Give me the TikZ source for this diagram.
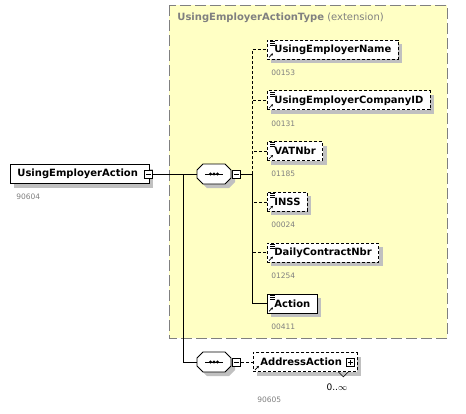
\documentclass[tikz,border=0pt]{standalone}
\usepackage{fontspec}
\setmainfont{DejaVu Sans}
\usetikzlibrary{positioning,shadows,arrows.meta}
\definecolor{typefill}{RGB}{255,255,196}
\definecolor{numgray}{RGB}{128,128,128}
\definecolor{shadowgray}{RGB}{192,192,192}

\newcommand\elemicon[1]{%
  \foreach \k in {1.5,3.5,5.5}
    \draw[line width=0.6pt] ([xshift=3pt,yshift=-\k pt]#1.north west) -- ++(5pt,0pt);
  \draw[line width=0.6pt,-{Stealth[length=2.5pt,width=2.5pt]}] ([xshift=2pt,yshift=2pt]#1.south west) -- ++(4pt,4pt);}

% octagon round a sequence node
\newcommand\seqoutline[1]{%
  \path[fill=shadowgray,shift={([xshift=4pt,yshift=-4pt]#1.center)}]
    (-17,-4) -- (-11,-10) -- (11,-10) -- (17,-4) -- (17,4) -- (11,10) -- (-11,10) -- (-17,4) -- cycle;
  \draw[fill=white,line width=0.8pt,shift={(#1.center)}]
    (-17,-4) -- (-11,-10) -- (11,-10) -- (17,-4) -- (17,4) -- (11,10) -- (-11,10) -- (-17,4) -- cycle;
  \draw[line width=0.8pt] ([xshift=-9pt]#1.center) -- ([xshift=9pt]#1.center);
  \foreach \d in {-3.5,0,3.5}
    \fill ([xshift=\d pt]#1.center) circle (1.6pt);}

\begin{document}
\begin{tikzpicture}[x=1pt,y=-1pt,thick,
			elem/.style={rectangle,draw,line width=0.8pt,fill=white,font=\bfseries\fontsize{10}{12}\selectfont,
				minimum height=19pt,inner xsep=7pt,inner ysep=0pt,anchor=west,
				general shadow={fill=shadowgray,shadow xshift=4pt,shadow yshift=-4pt}},
			optelem/.style={elem,dash pattern=on 3pt off 2pt},
			seqbox/.style={rectangle,minimum width=34pt,minimum height=20pt,inner sep=0pt},
			minusbox/.style={rectangle,draw,line width=0.6pt,fill=white,minimum size=8pt,inner sep=0pt,
				path picture={\draw[line width=0.6pt] ([xshift=-2.5pt]path picture bounding box.center) -- ([xshift=2.5pt]path picture bounding box.center);}},
			plusbox/.style={rectangle,draw,line width=0.6pt,fill=white,minimum size=8pt,inner sep=0pt,
				path picture={\draw[line width=0.6pt] ([xshift=-2.5pt]path picture bounding box.center) -- ([xshift=2.5pt]path picture bounding box.center)
					([yshift=-2.5pt]path picture bounding box.center) -- ([yshift=2.5pt]path picture bounding box.center);}},
			numlabel/.style={font=\fontsize{7.5}{9}\selectfont,text=numgray,inner sep=0pt},
			link/.style={line width=0.8pt},
			optlink/.style={line width=0.8pt,dash pattern=on 3pt off 2pt}]
			
			\useasboundingbox (0,0) rectangle (466,413);
			
			% extension type
			\draw[fill=typefill,draw=numgray,line width=1pt,dash pattern=on 11pt off 4pt] (169,5) rectangle (447,338);
			\node[anchor=west,text=numgray,font=\fontsize{10}{12}\selectfont,inner sep=0pt] (typename) at (177,18)
				{\textbf{UsingEmployerActionType} (extension)};
			
			% root element
			\node[elem] (main) at (10,174) {UsingEmployerAction\hspace{4pt}\mbox{}};
			\node[numlabel,below right=10pt and 6pt of main.south west] (mainnr) {90604};
			\node[minusbox] (mainminus) at ([xshift=-1pt]main.east) {};
			
			\node[seqbox] (seq1) at (214,174) {};
			\node[seqbox] (seq2) at (214,362) {};
			\seqoutline{seq1}
			\seqoutline{seq2}
			\node[minusbox,right=1pt of seq1] (seq1minus) {};
			\node[minusbox,right=1pt of seq2] (seq2minus) {};
			
			% children
			\node[optelem] (ename) at (267,49.5) {UsingEmployerName};
			\node[optelem] (ecompany) [below right=31pt and 0pt of ename.south west] {UsingEmployerCompanyID};
			\node[optelem] (evat) [below right=31pt and 0pt of ecompany.south west] {VATNbr};
			\node[optelem] (einss) [below right=31pt and 0pt of evat.south west] {INSS};
			\node[optelem] (edaily) [below right=31pt and 0pt of einss.south west] {DailyContractNbr};
			\node[elem] (eaction) [below right=31pt and 0pt of edaily.south west] {Action};
			
			\foreach \e/\n in {ename/00153,ecompany/00131,evat/01185,einss/00024,edaily/01254,eaction/00411} {
				\elemicon{\e}
				\node[numlabel,below right=10pt and 4pt of \e.south west] (\e nr) {\n};
			}
			
			\node[optelem] (address) at (253,362) {AddressAction\hspace{8pt}\mbox{}};
			\node[plusbox] (addressplus) at ([xshift=-7pt]address.east) {};
			\draw[-{Stealth[length=2.5pt,width=2.5pt]},line width=0.6pt] ([xshift=2pt,yshift=2pt]address.south west) -- ++(4pt,4pt);
			\draw[line width=0.6pt] ([xshift=-9pt]address.south east) -- ++(-5pt,-5pt) -- ++(-5pt,5pt);
			\node[font=\fontsize{9}{11}\selectfont,inner sep=0pt] (occurs) at (337,387) {0..$\infty$};
			\node[numlabel,anchor=west] (addressnr) at (257,400) {90605};
			
			% connectors
			\coordinate (fork) at (183,174);
			\coordinate (spine) at (252,174);
			\draw[link] (mainminus) -- (seq1);
			\draw[link] (fork) |- (seq2);
			\draw[link] (seq1minus) -- (spine);
			\foreach \e in {ename,ecompany,evat,einss,edaily}
				\draw[optlink] (spine) |- (\e);
			\draw[link] (spine) |- (eaction);
			\draw[optlink] (seq2minus) -- (address);
			\end{tikzpicture}
\end{document}
